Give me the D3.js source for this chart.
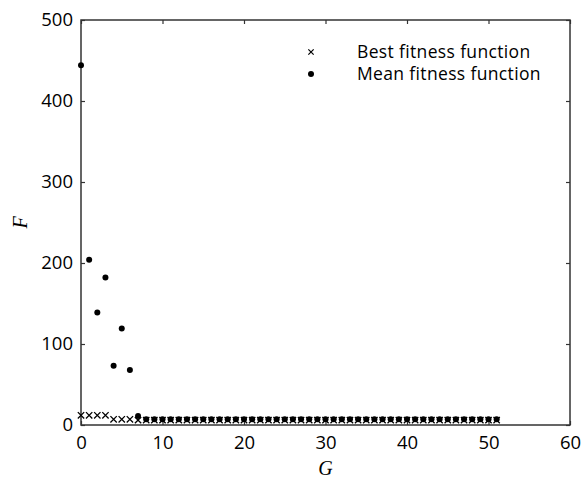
<!DOCTYPE html>
<html>
<head>
<meta charset="utf-8">
<script src="https://cdn.jsdelivr.net/npm/d3@7"></script>
<style>
  body { margin: 0; background: #fff; }
  text { font-family: "Open Sans", sans-serif; }
</style>
</head>
<body>
<div id="chart"></div>
<script>
// generations 0..51
var generations = d3.range(0, 52);

var bestFitness = [12, 12, 12, 12, 7, 7, 7, 6, 6, 6, 6, 6, 6, 6, 6, 6, 6, 6, 6, 6,
    6, 6, 6, 6, 6, 6, 6, 6, 6, 6, 6, 6, 6, 6, 6, 6, 6, 6, 6, 6,
    6, 6, 6, 6, 6, 6, 6, 6, 6, 6, 6, 6];

var meanFitness = [444, 204, 139, 182, 73, 119, 68, 11, 7, 7, 7, 7, 7, 7, 7, 7, 7, 7, 7, 7,
    7, 7, 7, 7, 7, 7, 7, 7, 7, 7, 7, 7, 7, 7, 7, 7, 7, 7, 7, 7,
    7, 7, 7, 7, 7, 7, 7, 7, 7, 7, 7, 7];

var xTicks = [0, 10, 20, 30, 40, 50, 60];
var yTicks = [0, 100, 200, 300, 400, 500];
var legendLabels = ['Best fitness function', 'Mean fitness function'];

var width = 586, height = 478;
var margin = {top: 20, right: 16, bottom: 53, left: 81};

var svg = d3.select('#chart').append('svg')
    .attr('width', width)
    .attr('height', height);

var x = d3.scaleLinear().domain([0, 60]).range([margin.left, width - margin.right]);
var y = d3.scaleLinear().domain([0, 500]).range([height - margin.bottom, margin.top]);

var axisColor = '#333';

// ticks pointing inward on all four sides
function styleAxis(g) {
    g.select('.domain').remove();
    g.selectAll('line').attr('stroke', axisColor).attr('stroke-width', 1.2);
    g.selectAll('text').attr('fill', '#000').style('font-size', '18.5px');
}

svg.append('g')
    .attr('transform', 'translate(0,' + y(0) + ')')
    .call(d3.axisBottom(x).tickValues(xTicks).tickSize(-4).tickPadding(11))
    .call(styleAxis);

svg.append('g')
    .attr('transform', 'translate(0,' + y(500) + ')')
    .call(d3.axisTop(x).tickValues(xTicks).tickSize(-4).tickFormat(''))
    .call(styleAxis);

svg.append('g')
    .attr('transform', 'translate(' + x(0) + ',0)')
    .call(d3.axisLeft(y).tickValues(yTicks).tickSize(-4).tickPadding(8))
    .call(styleAxis);

svg.append('g')
    .attr('transform', 'translate(' + x(60) + ',0)')
    .call(d3.axisRight(y).tickValues(yTicks).tickSize(-4).tickFormat(''))
    .call(styleAxis);

// frame
svg.append('rect')
    .attr('x', x(0))
    .attr('y', y(500))
    .attr('width', x(60) - x(0))
    .attr('height', y(0) - y(500))
    .attr('fill', 'none')
    .attr('stroke', axisColor)
    .attr('stroke-width', 1.5);

// axis labels
svg.append('text')
    .attr('x', (x(0) + x(60)) / 2)
    .attr('y', 475)
    .attr('text-anchor', 'middle')
    .style('font-family', '"Liberation Serif", serif')
    .style('font-style', 'italic')
    .style('font-size', '20px')
    .text('G');

svg.append('text')
    .attr('transform', 'translate(27,' + ((y(0) + y(500)) / 2) + ') rotate(-90)')
    .attr('text-anchor', 'middle')
    .style('font-family', '"Liberation Serif", serif')
    .style('font-style', 'italic')
    .style('font-size', '20px')
    .text('F');

// mean markers
svg.append('g').selectAll('circle')
    .data(generations)
    .join('circle')
    .attr('cx', function(d) { return x(d); })
    .attr('cy', function(d) { return y(meanFitness[d]); })
    .attr('r', 3)
    .attr('fill', '#000');

// best markers
var cross = d3.symbol().type(d3.symbolX).size(28);
svg.append('g').selectAll('path')
    .data(generations)
    .join('path')
    .attr('transform', function(d) {
        return 'translate(' + x(d) + ',' + y(bestFitness[d]) + ')';
    })
    .attr('d', cross)
    .attr('fill', 'none')
    .attr('stroke', '#000')
    .attr('stroke-width', 1.3);

// legend
var legend = svg.append('g').attr('transform', 'translate(311,52)');
legend.append('path')
    .attr('d', d3.symbol().type(d3.symbolX).size(20))
    .attr('fill', 'none')
    .attr('stroke', '#000')
    .attr('stroke-width', 1.2);
legend.append('circle')
    .attr('cy', 22)
    .attr('r', 3)
    .attr('fill', '#000');
legend.selectAll('text')
    .data(legendLabels)
    .join('text')
    .attr('x', 46)
    .attr('y', function(d, i) { return i * 22; })
    .attr('dy', '0.35em')
    .style('font-size', '17.5px')
    .style('letter-spacing', '0.35px')
    .attr('fill', '#000')
    .text(function(d) { return d; });
</script>
</body>
</html>
